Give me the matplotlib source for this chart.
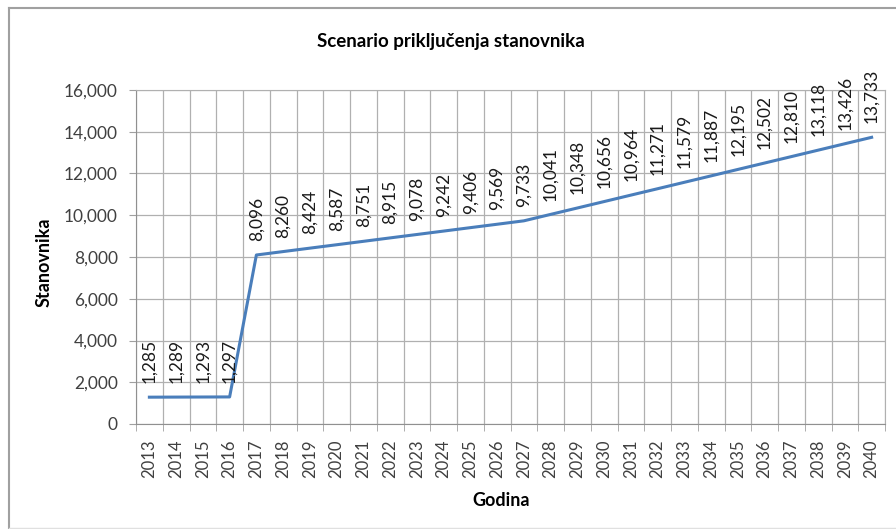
import matplotlib.pyplot as plt
from matplotlib.lines import Line2D

# data
years = list(range(2013, 2041))
population = [1285, 1289, 1293, 1297, 8096, 8260, 8424, 8587, 8751, 8915,
              9078, 9242, 9406, 9569, 9733, 10041, 10348, 10656, 10964, 11271,
              11579, 11887, 12195, 12502, 12810, 13118, 13426, 13733]
y_ticks = list(range(0, 16001, 2000))

plt.rcParams['font.family'] = ['Lato', 'DejaVu Sans']

fig = plt.figure(figsize=(8.96, 5.29), dpi=100)
ax = fig.add_axes([136 / 896, 1 - 424 / 529, 749 / 896, 334 / 529])

x = list(range(len(years)))
ax.plot(x, population, color='#4a7ebb', linewidth=2.2, zorder=3)

for xi, v in zip(x, population):
    ax.annotate(f'{v:,}', (xi, v), xytext=(0, 10), textcoords='offset points',
                rotation=90, ha='center', va='bottom', fontsize=12.5,
                color='#1a1a1a')

ax.set_xlim(-0.5, len(years) - 0.5)
ax.set_ylim(0, 16000)
ax.set_yticks(y_ticks)
ax.set_yticklabels([f'{t:,}' for t in y_ticks], fontsize=12.5, color='#404040')

ax.set_xticks(x)
ax.set_xticklabels([str(yr) for yr in years], rotation=90, fontsize=12,
                   color='#404040')
ax.set_xticks([i - 0.5 for i in range(len(years) + 1)], minor=True)
ax.tick_params(axis='x', which='major', length=0, pad=11)
ax.tick_params(axis='x', which='minor', length=5, color='#a0a0a0')
ax.tick_params(axis='y', length=5, color='#a0a0a0', pad=8)

ax.grid(True, axis='y', which='major', color='#b0b0b0', linewidth=0.9)
ax.grid(True, axis='x', which='minor', color='#b0b0b0', linewidth=0.9)
ax.set_axisbelow(True)
for side in ['top', 'right']:
    ax.spines[side].set_color('#b0b0b0')
for side in ['left', 'bottom']:
    ax.spines[side].set_color('#909090')

fig.text(451 / 896, 1 - 42 / 529, 'Scenario priključenja stanovnika',
         fontsize=13.5, fontweight='bold', ha='center', va='center')
fig.text(501 / 896, 1 - 500 / 529, 'Godina', fontsize=13,
         fontweight='bold', ha='center', va='center')
fig.text(44 / 896, 1 - 262 / 529, 'Stanovnika', fontsize=13,
         fontweight='bold', ha='center', va='center', rotation=90)

# outer chart frame
fig.add_artist(Line2D([9 / 896, 1], [1 - 8 / 529] * 2, color='#a0a0a0', lw=1.5))
fig.add_artist(Line2D([9 / 896] * 2, [1 / 529, 1 - 8 / 529], color='#a0a0a0', lw=1.5))
fig.add_artist(Line2D([9 / 896, 1], [1 / 529] * 2, color='#e0e0e0', lw=1))

fig.savefig('out.png', dpi=100)
